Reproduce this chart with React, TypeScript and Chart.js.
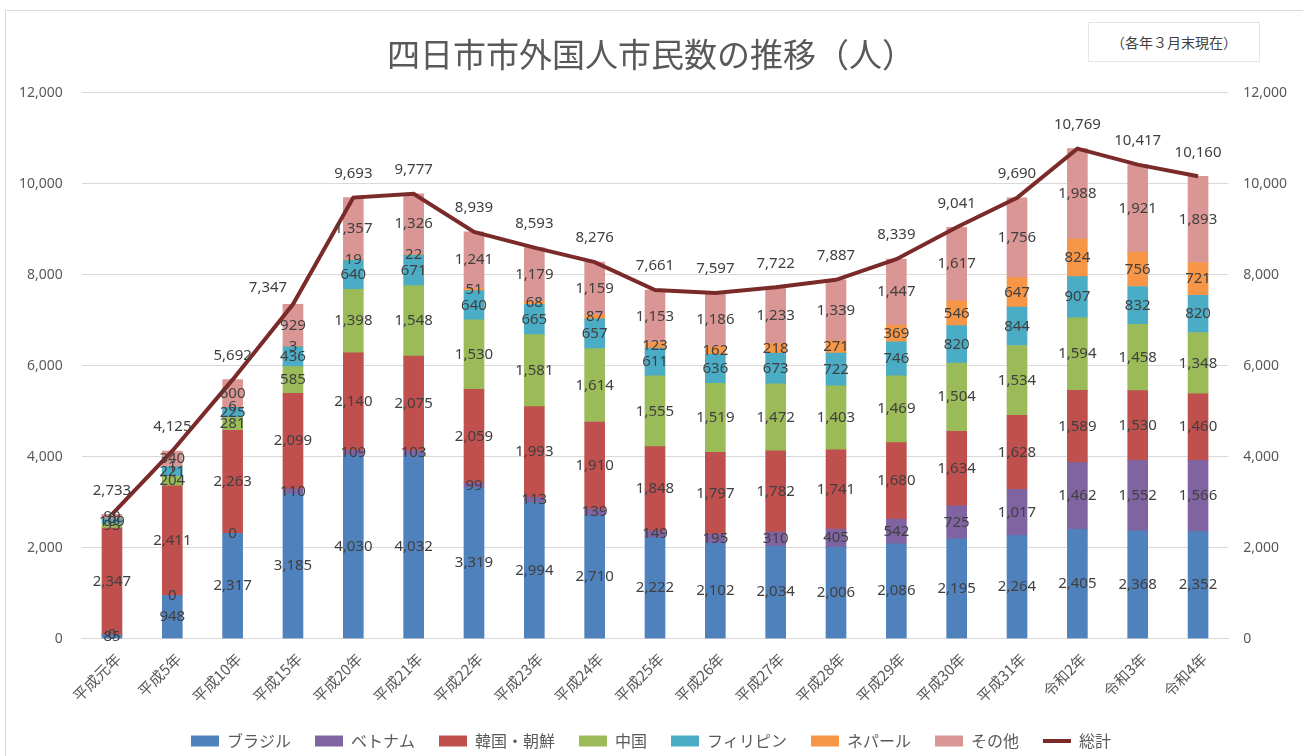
import React, { useEffect, useRef } from "react";
import { Chart, registerables } from "chart.js";

Chart.register(...registerables);

const categories = ["平成元年", "平成5年", "平成10年", "平成15年", "平成20年", "平成21年", "平成22年", "平成23年", "平成24年", "平成25年", "平成26年", "平成27年", "平成28年", "平成29年", "平成30年", "平成31年", "令和2年", "令和3年", "令和4年"];
const brazil = [85, 948, 2317, 3185, 4030, 4032, 3319, 2994, 2710, 2222, 2102, 2034, 2006, 2086, 2195, 2264, 2405, 2368, 2352];
const vietnam = [0, 0, 0, 110, 109, 103, 99, 113, 139, 149, 195, 310, 405, 542, 725, 1017, 1462, 1552, 1566];
const korea = [2347, 2411, 2263, 2099, 2140, 2075, 2059, 1993, 1910, 1848, 1797, 1782, 1741, 1680, 1634, 1628, 1589, 1530, 1460];
const china = [93, 204, 281, 585, 1398, 1548, 1530, 1581, 1614, 1555, 1519, 1472, 1403, 1469, 1504, 1534, 1594, 1458, 1348];
const philippines = [109, 221, 225, 436, 640, 671, 640, 665, 657, 611, 636, 673, 722, 746, 820, 844, 907, 832, 820];
const nepal = [0, 1, 6, 3, 19, 22, 51, 68, 87, 123, 162, 218, 271, 369, 546, 647, 824, 756, 721];
const other = [99, 340, 600, 929, 1357, 1326, 1241, 1179, 1159, 1153, 1186, 1233, 1339, 1447, 1617, 1756, 1988, 1921, 1893];
const total = [2733, 4125, 5692, 7347, 9693, 9777, 8939, 8593, 8276, 7661, 7597, 7722, 7887, 8339, 9041, 9690, 10769, 10417, 10160];

const seriesNames = ["ブラジル", "ベトナム", "韓国・朝鮮", "中国", "フィリピン", "ネパール", "その他"];
const seriesValues = [brazil, vietnam, korea, china, philippines, nepal, other];
const seriesColors = ["#4F81BD", "#8064A2", "#C0504D", "#9BBB59", "#4BACC6", "#F79646", "#DA9694"];
const totalName = "総計";
const totalColor = "#7B2A2A";

const titleText = "四日市市外国人市民数の推移（人）";
const noteText = "（各年３月末現在）";
const yMin = 0;
const yMax = 12000;
const yStep = 2000;

const CJK = "'Noto Sans CJK JP', 'Noto Sans', sans-serif";
const NUM = "'Noto Sans', 'Noto Sans CJK JP', sans-serif";

const fmt = (v: number) => v.toLocaleString("en-US");

const labelPlugin = {
  id: "valueLabels",
  afterDatasetsDraw(chart: any) {
    const ctx = chart.ctx;
    ctx.save();
    ctx.font = `15px ${NUM}`;
    ctx.fillStyle = "#404040";
    ctx.textAlign = "center";
    ctx.textBaseline = "middle";
    chart.data.datasets.forEach((ds: any, i: number) => {
      const meta = chart.getDatasetMeta(i);
      if (meta.type !== "bar") return;
      meta.data.forEach((el: any, j: number) => {
        const p = el.getProps(["x", "y", "base"], true);
        ctx.fillText(fmt(ds.data[j]), p.x, (p.y + p.base) / 2);
      });
    });
    chart.data.datasets.forEach((ds: any, i: number) => {
      const meta = chart.getDatasetMeta(i);
      if (meta.type !== "line") return;
      const pts = meta.data;
      pts.forEach((el: any, j: number) => {
        let dx = 0;
        let dy = -24;
        const next = pts[j + 1];
        if (next) {
          const slope = (el.y - next.y) / (next.x - el.x);
          if (slope > 1.5) {
            dx = -25;
            dy = -17;
          }
        }
        ctx.fillText(fmt(ds.data[j]), el.x + dx, el.y + dy);
      });
    });
    ctx.restore();
  },
};

export default function App() {
  const ref = useRef<HTMLCanvasElement>(null);

  useEffect(() => {
    document.body.style.margin = "0";
    const barSets = seriesNames.map((name, i) => ({
      type: "bar" as const,
      label: name,
      data: seriesValues[i],
      backgroundColor: seriesColors[i],
      borderWidth: 0,
      barThickness: 20,
      yAxisID: "y",
      order: 1,
    }));
    const lineSet = {
      type: "line" as const,
      label: totalName,
      data: total,
      borderColor: totalColor,
      backgroundColor: totalColor,
      borderWidth: 4,
      pointRadius: 0,
      tension: 0,
      yAxisID: "y1",
      order: 0,
    };
    const chart = new Chart(ref.current!, {
      type: "bar",
      data: { labels: categories, datasets: [...barSets, lineSet] as any },
      options: {
        animation: false,
        responsive: false,
        devicePixelRatio: 1,
        layout: { padding: { left: 0, right: 1, top: 0, bottom: -3 } },
        plugins: {
          tooltip: { enabled: false },
          title: {
            display: true,
            text: titleText,
            color: "#595959",
            font: { family: CJK, size: 33, weight: "normal" as any, lineHeight: 1.2 },
            padding: { top: 35, bottom: 18 },
          },
          legend: {
            position: "bottom",
            labels: {
              color: "#595959",
              font: { family: CJK, size: 16 },
              usePointStyle: true,
              pointStyleWidth: 28,
              boxHeight: 11,
              padding: 24,
              generateLabels: (c: any) => {
                const items = Chart.defaults.plugins.legend.labels.generateLabels(c);
                items.sort((a: any, b: any) => a.datasetIndex - b.datasetIndex);
                return items.map((it: any) => {
                  const ds = c.data.datasets[it.datasetIndex];
                  if (ds.type === "line") {
                    return { ...it, pointStyle: "line", lineWidth: 4, strokeStyle: totalColor, fillStyle: totalColor };
                  }
                  return { ...it, pointStyle: "rect", lineWidth: 0 };
                });
              },
            },
          },
        },
        scales: {
          x: {
            stacked: true,
            grid: { display: false },
            border: { color: "#d9d9d9" },
            ticks: {
              color: "#595959",
              font: { family: CJK, size: 15 },
              maxRotation: 45,
              minRotation: 45,
              autoSkip: false,
              labelOffset: 6,
            },
          },
          y: {
            stacked: true,
            position: "left",
            min: yMin,
            max: yMax,
            grid: { color: "#d9d9d9", drawTicks: false },
            border: { display: false },
            ticks: {
              stepSize: yStep,
              padding: 19,
              color: "#595959",
              font: { family: NUM, size: 14 },
              callback: (v: any) => fmt(Number(v)),
            },
          },
          y1: {
            position: "right",
            min: yMin,
            max: yMax,
            grid: { display: false, drawTicks: false },
            border: { display: false },
            ticks: {
              stepSize: yStep,
              padding: 15,
              color: "#595959",
              font: { family: NUM, size: 14 },
              callback: (v: any) => fmt(Number(v)),
            },
          },
        },
      } as any,
      plugins: [labelPlugin],
    });
    return () => chart.destroy();
  }, []);

  return (
    <div style={{ position: "relative", width: 1303, height: 756, overflow: "hidden", background: "#ffffff" }}>
      <canvas ref={ref} width={1303} height={756} style={{ display: "block", width: 1303, height: 756 }} />
      <div
        style={{
          position: "absolute",
          left: 5,
          top: 10,
          width: 1310,
          height: 760,
          border: "1px solid #d9d9d9",
          pointerEvents: "none",
        }}
      />
      <div
        style={{
          position: "absolute",
          left: 1088,
          top: 22,
          width: 172,
          height: 40,
          border: "1px solid #e4e4e4",
          boxSizing: "border-box",
          display: "flex",
          alignItems: "center",
          justifyContent: "center",
          fontFamily: CJK,
          fontSize: 14,
          color: "#404040",
          background: "#ffffff",
        }}
      >
        {noteText}
      </div>
    </div>
  );
}
